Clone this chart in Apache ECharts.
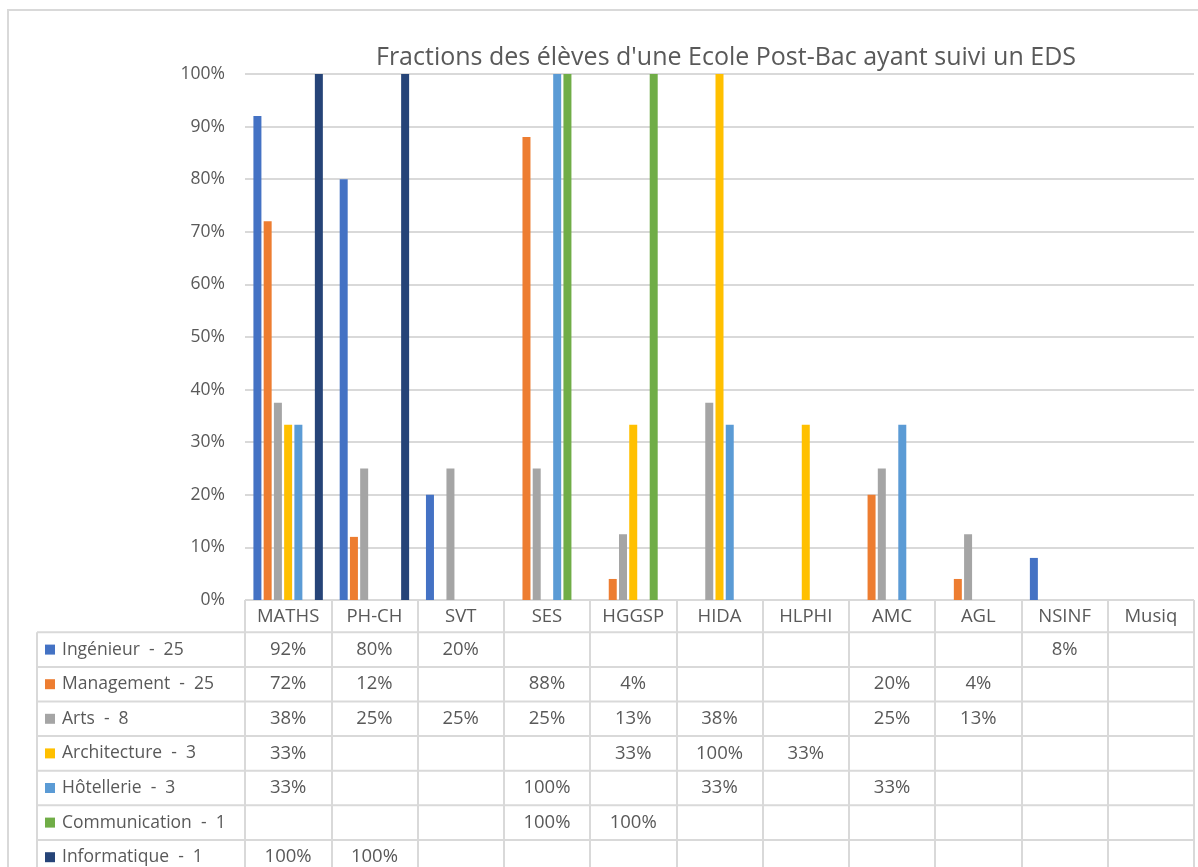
<!DOCTYPE html>
<html><head><meta charset="utf-8">
<script src="https://cdn.jsdelivr.net/npm/echarts@6/dist/echarts.min.js"></script>
<style>html,body{margin:0;padding:0;background:#fff}#c{width:1198px;height:867px}</style>
</head><body><div id="c"></div>
<script>
const categories = ['MATHS','PH-CH','SVT','SES','HGGSP','HIDA','HLPHI','AMC','AGL','NSINF','Musiq'];
const seriesNames = ['Ingénieur  -  25','Management  -  25','Arts  -  8','Architecture  -  3','Hôtellerie  -  3','Communication  -  1','Informatique  -  1'];
const ingenieur    = [92, 80, 20, null, null, null, null, null, null, 8, null];
const management   = [72, 12, null, 88, 4, null, null, 20, 4, null, null];
const arts         = [37.5, 25, 25, 25, 12.5, 37.5, null, 25, 12.5, null, null];
const architecture = [33.33, null, null, null, 33.33, 100, 33.33, null, null, null, null];
const hotellerie   = [33.33, null, null, 100, null, 33.33, null, 33.33, null, null, null];
const communication= [null, null, null, 100, 100, null, null, null, null, null, null];
const informatique = [100, 100, null, null, null, null, null, null, null, null, null];
const yTicks = [0,10,20,30,40,50,60,70,80,90,100];
const colors = ['#4472C4','#ED7D31','#A5A5A5','#FFC000','#5B9BD5','#70AD47','#264478'];
const allData = [ingenieur, management, arts, architecture, hotellerie, communication, informatique];

const FONT = 'Open Sans';
const TXT = '#595959';
const LINE = '#d9d9d9';

const chart = echarts.init(document.getElementById('c'));
const option = {
  animation: false,
  color: colors,
  title: {
    text: "Fractions des élèves d'une Ecole Post-Bac ayant suivi un EDS",
    left: 721, textAlign: 'center', top: 40,
    textStyle: {fontFamily: FONT, fontSize: 25, fontWeight: 'normal', color: TXT}
  },
  grid: {left: 245, right: 4, top: 74, bottom: 267},
  xAxis: {
    type: 'category', data: categories,
    axisLine: {lineStyle: {color: LINE, width: 1}},
    axisTick: {show: true, length: 275, lineStyle: {color: LINE, width: 2}},
    axisLabel: {fontFamily: FONT, fontSize: 18.5, color: TXT, margin: 7}
  },
  yAxis: {
    type: 'value', min: yTicks[0], max: yTicks[yTicks.length-1], interval: 10,
    axisLine: {show: false}, axisTick: {show: false},
    axisLabel: {formatter: '{value}%', fontFamily: FONT, fontSize: 17.5, color: TXT, margin: 20},
    splitLine: {lineStyle: {color: LINE, width: 2}}
  },
  series: allData.map((d, i) => ({
    type: 'bar', name: seriesNames[i], data: d,
    barWidth: 8, barGap: '28%',
    itemStyle: {color: colors[i]}
  }))
};
chart.setOption(option);

// data table built from the same arrays, aligned via the axes
const y0 = chart.convertToPixel({yAxisIndex: 0}, 0);
const headerH = 32.3;
const rowH = 34.6;
const tableLeft = 37;
const plotRight = 1194;
const g = [];
g.push({type: 'rect', shape: {x: 8, y: 10, width: 1200, height: 870}, style: {fill: 'none', stroke: LINE, lineWidth: 2}, silent: true});
g.push({type: 'line', shape: {x1: tableLeft, y1: y0 + headerH, x2: tableLeft, y2: 900}, style: {stroke: LINE, lineWidth: 2}});
for (let r = 0; r < seriesNames.length; r++) {
  const top = y0 + headerH + r * rowH;
  g.push({type: 'line', shape: {x1: tableLeft, y1: top, x2: plotRight, y2: top}, style: {stroke: LINE, lineWidth: 2}});
  const cy = top + rowH / 2;
  g.push({type: 'rect', shape: {x: 45, y: cy - 5, width: 10, height: 10}, style: {fill: colors[r]}});
  g.push({type: 'text', x: 62, y: cy, style: {text: seriesNames[r], fontFamily: FONT, fontSize: 17.5, fill: TXT, verticalAlign: 'middle', align: 'left'}});
  allData[r].forEach((v, ci) => {
    if (v === null) return;
    const cx = chart.convertToPixel({xAxisIndex: 0}, ci);
    g.push({type: 'text', x: cx, y: cy, style: {text: Math.round(v) + '%', fontFamily: FONT, fontSize: 18.5, fill: TXT, align: 'center', verticalAlign: 'middle'}});
  });
}
chart.setOption({graphic: g});
</script></body></html>
